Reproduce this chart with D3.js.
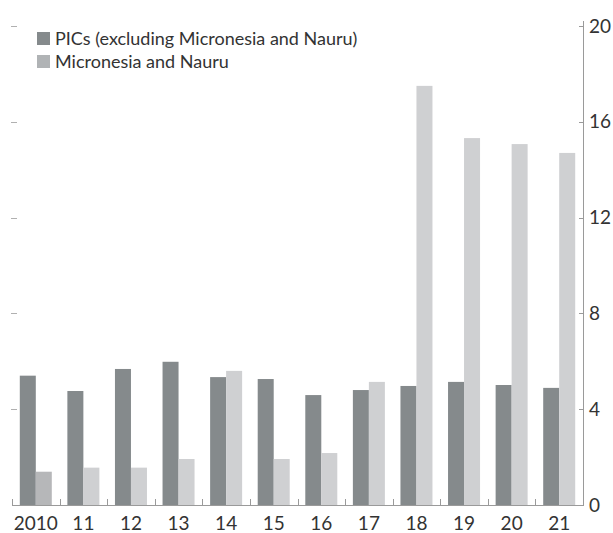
<!DOCTYPE html>
<html><head><meta charset="utf-8">
<script src="https://cdn.jsdelivr.net/npm/d3@7"></script>
<style>body{margin:0;background:#fff}svg{display:block}text{font-family:Lato,"Open Sans",sans-serif;fill:#333}</style>
</head><body><svg id="c" width="613" height="533"></svg>
<script>
const categories = ["2010","11","12","13","14","15","16","17","18","19","20","21"];
const picsValues = [5.4,4.76,5.68,5.98,5.34,5.26,4.59,4.8,4.97,5.14,5.01,4.89];
const micNauruValues = [1.39,1.56,1.56,1.92,5.6,1.92,2.17,5.14,17.5,15.32,15.07,14.7];
const seriesNames = ["PICs (excluding Micronesia and Nauru)","Micronesia and Nauru"];
const yTicks = [0,4,8,12,16,20];

const svg = d3.select("#c");
const m = {left:12, right:583, top:26, bottom:505};
const x = d3.scaleBand().domain(categories).range([m.left, m.right]).padding(0);
const y = d3.scaleLinear().domain([0,20]).range([m.bottom, m.top]);
const barW = 16;
const cDark = "#858a8c", cLight = "#cfd0d2", cLight0 = "#b6b7b9";

const g = svg.append("g");
categories.forEach((c,i)=>{
  const cx = x(c) + x.bandwidth()/2;
  g.append("rect").attr("x", cx-barW).attr("width", barW)
    .attr("y", y(picsValues[i])).attr("height", y(0)-y(picsValues[i])).attr("fill", cDark);
  g.append("rect").attr("x", cx).attr("width", barW)
    .attr("y", y(micNauruValues[i])).attr("height", y(0)-y(micNauruValues[i]))
    .attr("fill", i===0 ? cLight0 : cLight);
});

// right axis
const ra = svg.append("g").attr("transform",`translate(${m.right},0)`)
  .call(d3.axisRight(y).tickValues(yTicks).tickSize(0).tickPadding(6).tickFormat(d3.format("d")));
ra.select(".domain").remove();
ra.selectAll("text").attr("font-size",19).attr("fill","#333").style("font-family","Lato");
svg.append("line").attr("x1",m.right+0.5).attr("x2",m.right+0.5).attr("y1",y(20)-5).attr("y2",y(0))
  .attr("stroke","#9a9a9a").attr("stroke-width",1);
yTicks.filter(d=>d>0).forEach(d=>{
  svg.append("line").attr("x1",m.right-4).attr("x2",m.right).attr("y1",Math.round(y(d))+0.5).attr("y2",Math.round(y(d))+0.5)
    .attr("stroke","#9a9a9a");
  svg.append("line").attr("x1",11).attr("x2",17).attr("y1",Math.round(y(d))+0.5).attr("y2",Math.round(y(d))+0.5)
    .attr("stroke","#b0b0b0");
});

// bottom axis
const ba = svg.append("g").attr("transform",`translate(0,${m.bottom})`)
  .call(d3.axisBottom(x).tickSize(0).tickPadding(12));
ba.select(".domain").remove();
ba.selectAll("text").attr("font-size",19).attr("fill","#333").style("font-family","Lato");
svg.append("line").attr("x1",m.left).attr("x2",m.right+1).attr("y1",m.bottom+0.5).attr("y2",m.bottom+0.5)
  .attr("stroke","#9a9a9a");
categories.forEach(c=>{
  const xx = Math.round(x(c))+0.5;
  svg.append("line").attr("x1",xx).attr("x2",xx).attr("y1",m.bottom-6).attr("y2",m.bottom).attr("stroke","#9a9a9a");
});

// legend
const leg = svg.append("g");
const legColors = [cDark, "#b0b3b5"];
seriesNames.forEach((n,i)=>{
  const yy = 32 + i*23;
  leg.append("rect").attr("x",37).attr("y",yy).attr("width",13).attr("height",13).attr("fill",legColors[i]);
  leg.append("text").attr("x",55).attr("y",yy+13).attr("font-size",18).text(n);
});
</script></body></html>
